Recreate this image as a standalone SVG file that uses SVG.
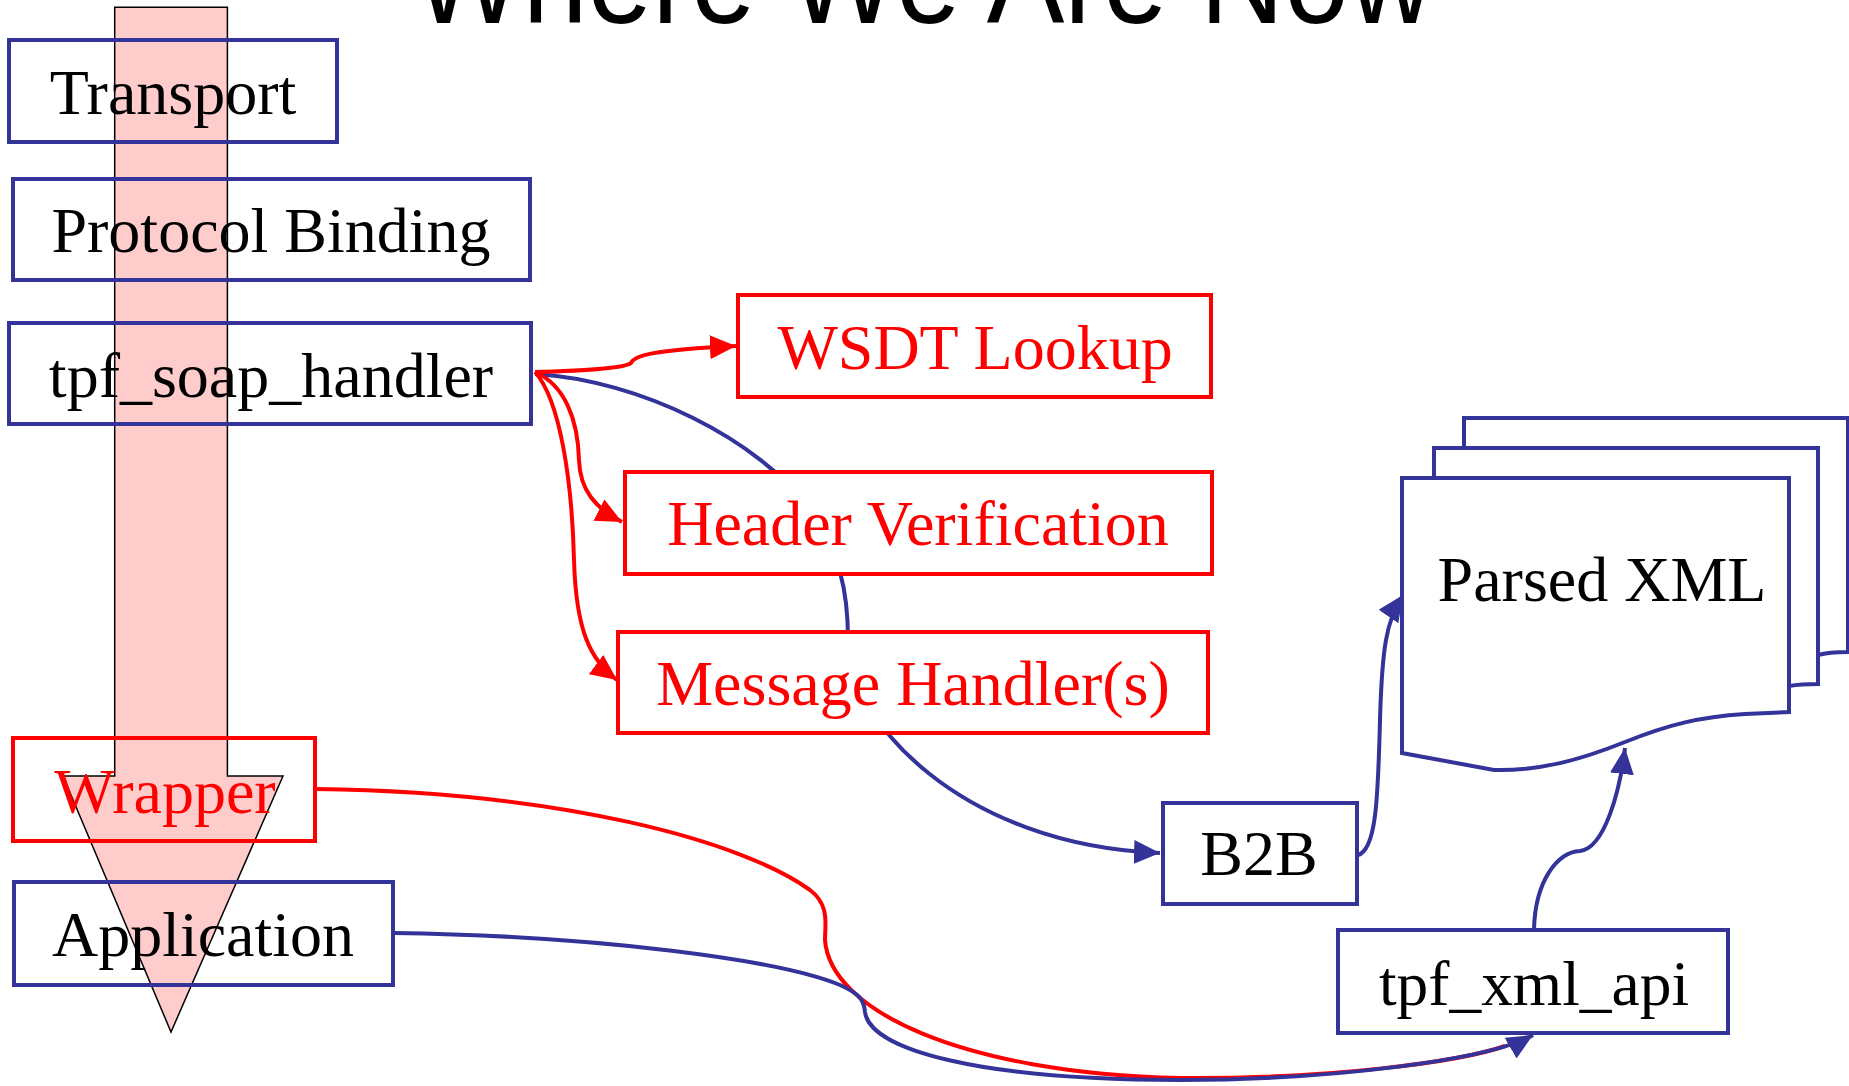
<svg xmlns="http://www.w3.org/2000/svg" width="1849" height="1086" viewBox="0 0 1849 1086">
<defs>
<marker id="ar" viewBox="0 0 26 24" refX="26" refY="12" markerWidth="26" markerHeight="24" markerUnits="userSpaceOnUse" orient="auto"><path d="M0,0 L26,12 L0,24 Z" fill="#FF0000"/></marker>
<marker id="ab" viewBox="0 0 26 24" refX="26" refY="12" markerWidth="26" markerHeight="24" markerUnits="userSpaceOnUse" orient="auto"><path d="M0,0 L26,12 L0,24 Z" fill="#333399"/></marker>
</defs>
<style>
.bb{fill:none;stroke:#333399;stroke-width:4}
.bw{fill:#FFFFFF;stroke:#333399;stroke-width:4}
.rb{fill:#FFFFFF;stroke:#FF0000;stroke-width:4}
.rn{fill:none;stroke:#FF0000;stroke-width:4}
.t{font-family:"Liberation Serif","Times New Roman",serif;font-size:64px;text-anchor:middle}
.k{fill:#000000}
.r{fill:#FF0000}
.cb{fill:none;stroke:#333399;stroke-width:4}
.cr{fill:none;stroke:#FF0000;stroke-width:4}
</style>
<rect x="0" y="0" width="1849" height="1086" fill="#FFFFFF"/>
<text id="title" x="413" y="23" font-family="'Liberation Sans',Arial,sans-serif" font-size="132" textLength="1020" lengthAdjust="spacingAndGlyphs" fill="#000000">Where We Are Now</text>
<g id="flow-arrow">
<polygon points="114.7,7.3 227.4,7.3 227.4,776 283,776 171,1032 63,776 114.7,776" fill="#FFCCCC" stroke="#000000" stroke-width="1.5"/>
</g>
<g id="transport"><rect class="bb" x="9" y="40" width="328" height="102"/><text class="t k" x="173" y="114">Transport</text></g>
<g id="protocol-binding"><rect class="bb" x="13" y="179" width="517" height="101"/><text class="t k" x="271" y="252">Protocol Binding</text></g>
<g id="tpf-soap-handler"><rect class="bb" x="9" y="323" width="522" height="101"/><text class="t k" x="271" y="397">tpf_soap_handler</text></g>
<g id="wrapper"><rect class="rn" x="13" y="738" width="302" height="103"/><text class="t r" x="165" y="813">Wrapper</text></g>
<g id="application"><rect class="bb" x="14" y="882" width="379" height="103"/><text class="t k" x="203" y="956">Application</text></g>
<g id="connectors">
<path class="cb" d="M535 374 C 640 380 760 440 810 510 C 840 555 848 590 848 640 C 848 720 960 845 1160 853" marker-end="url(#ab)"/>
<path class="cr" d="M535 372 C 580 371 625 368 631 363 C 634 356 650 350 736 346" marker-end="url(#ar)"/>
<path class="cr" d="M535 372 C 565 385 578 420 579 460 C 580 490 595 508 622 522" marker-end="url(#ar)"/>
<path class="cr" d="M535 372 C 560 400 572 480 574 560 C 576 630 590 660 617 680" marker-end="url(#ar)"/>
<path class="cb" d="M1358 855 C 1376 850 1378 800 1380 720 C 1382 650 1386 620 1403 595" marker-end="url(#ab)"/>
<path class="cb" d="M1534 930 C 1535 880 1558 852 1580 851 C 1605 848 1620 790 1625 748" marker-end="url(#ab)"/>
<path class="cr" d="M316 789 C 560 792 740 840 810 890 C 830 905 825 925 825 940 C 830 1010 960 1073 1180 1078 C 1330 1079 1460 1062 1505 1046"/>
<path class="cb" d="M394 933 C 600 936 780 960 840 985 C 860 994 864 1000 865 1012 C 870 1050 980 1080 1180 1080 C 1330 1080 1490 1060 1533 1035" marker-end="url(#ab)"/>
</g>
<g id="wsdt-lookup"><rect class="rb" x="738" y="295" width="473" height="102"/><text class="t r" x="975" y="369">WSDT Lookup</text></g>
<g id="header-verification"><rect class="rb" x="625" y="472" width="587" height="102"/><text class="t r" x="918" y="545">Header Verification</text></g>
<g id="message-handlers"><rect class="rb" x="618" y="632" width="590" height="101"/><text class="t r" x="913" y="705">Message Handler(s)</text></g>
<g id="b2b"><rect class="bw" x="1163" y="803" width="194" height="101"/><text class="t k" x="1259" y="875">B2B</text></g>
<g id="tpf-xml-api"><rect class="bw" x="1338" y="930" width="390" height="103"/><text class="t k" x="1379" y="1005" text-anchor="start" style="text-anchor:start" textLength="310" lengthAdjust="spacingAndGlyphs">tpf_xml_api</text></g>
<g id="parsed-xml">
<path class="bw" d="M1464 418 H1848 V652 C 1835 652 1825 653 1818 655 L1464 655 Z"/>
<path class="bw" d="M1434 448 H1818 V684 C 1805 684 1795 685 1789 686 L1434 686 Z"/>
<path class="bw" d="M1402 478 H1789 V712 L1745 714 C 1700 717 1670 724 1625 742 C 1580 760 1540 771 1494 770 L1402 753 Z"/>
<text class="t k" x="1602" y="601">Parsed XML</text>
</g>
</svg>
